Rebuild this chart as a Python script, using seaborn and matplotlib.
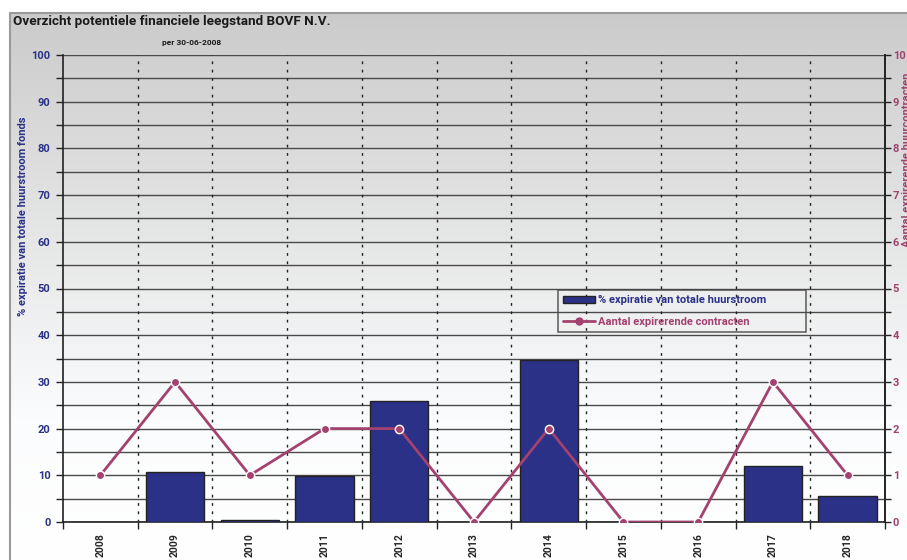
import numpy as np
import matplotlib
matplotlib.use('Agg')
import matplotlib.pyplot as plt
import seaborn as sns
from matplotlib.patches import Rectangle, Patch
from matplotlib.lines import Line2D
from matplotlib.colors import LinearSegmentedColormap

years = ['2008', '2009', '2010', '2011', '2012', '2013', '2014', '2015', '2016', '2017', '2018']
pct_expiratie = [0, 10.7, 0.4, 9.9, 25.9, 0, 34.6, 0, 0, 12.0, 5.6]
aantal_contracten = [1, 3, 1, 2, 2, 0, 2, 0, 0, 3, 1]

navy = '#2a3187'
magenta = '#a3416f'
font = 'Roboto'

sns.set_style('white')
plt.rcParams['font.family'] = [font, 'DejaVu Sans']
plt.rcParams['font.weight'] = 'bold'

fig = plt.figure(figsize=(9.07, 5.6), dpi=100)
fig.patch.set_facecolor('white')

# grey panel with vertical gradient behind everything (grey on top, white at the bottom)
bg = fig.add_axes([10 / 907, 0, 1 - 10 / 907, 1 - 13 / 560], zorder=-10)
cmap = LinearSegmentedColormap.from_list('bg', [(0, '#cbcbcb'), (0.74, '#fbfcfd'), (1, '#ffffff')])
grad = np.linspace(0, 1, 256).reshape(-1, 1)
bg.imshow(grad, aspect='auto', cmap=cmap, extent=[0, 1, 0, 1], origin='upper')
bg.set_xlim(0, 1)
bg.set_ylim(0, 1)
bg.axis('off')
fig.patches.append(Rectangle((10 / 907, -0.01), 1.0, 1 - 13 / 560 + 0.01, transform=fig.transFigure,
                             fill=False, edgecolor='#9a9a9a', linewidth=1.5, zorder=-5))

ax = fig.add_axes([63 / 907, 1 - 522 / 560, (885 - 63) / 907, (522 - 55) / 560])
ax.patch.set_alpha(0)

sns.barplot(x=years, y=pct_expiratie, color=navy, width=0.78, edgecolor='#222222',
            linewidth=1, saturation=1, ax=ax, zorder=3)

ax.set_ylim(0, 100)
ax.set_xlim(-0.5, len(years) - 0.5)
ax.set_yticks(np.arange(0, 101, 10))
ax.set_yticks(np.arange(5, 100, 10), minor=True)
ax.yaxis.grid(True, which='both', color='#4a4a4a', linewidth=1)
ax.set_axisbelow(True)
for xb in np.arange(0.5, len(years) - 0.5, 1):
    ax.axvline(xb, color='#222222', linestyle=(0, (2, 4)), linewidth=1, zorder=1)

ax.tick_params(axis='y', which='both', direction='out', length=5, width=1, color='#222222',
               left=True, labelcolor=navy, labelsize=8, pad=4)
ax.tick_params(axis='x', which='major', length=0, labelsize=7.5, pad=8)
ax.set_xticks(np.arange(-0.5, len(years), 1), minor=True)
ax.tick_params(axis='x', which='minor', direction='out', length=5, width=1, color='#222222', bottom=True)
for lab in ax.get_xticklabels():
    lab.set_rotation(90)
    lab.set_va('top')
    lab.set_fontweight('bold')
for lab in ax.get_yticklabels():
    lab.set_fontweight('bold')

ax.set_xlabel('')
ax.set_ylabel('% expiratie van totale huurstroom fonds', color=navy, fontsize=8, fontweight='bold')
ax.yaxis.set_label_coords(-0.043, 0.655)

for side in ['left', 'bottom', 'right']:
    ax.spines[side].set_color('#222222')
    ax.spines[side].set_linewidth(1.2)
ax.spines['top'].set_visible(False)

ax2 = ax.twinx()
sns.pointplot(x=years, y=aantal_contracten, color=magenta, markers='o', linewidth=2,
              markersize=6, markeredgecolor='white', markeredgewidth=1, ax=ax2, zorder=5)
ax2.set_ylim(0, 10)
ax2.set_xlim(-0.5, len(years) - 0.5)
ax2.set_yticks(np.arange(0, 11, 1))
ax2.set_yticks(np.arange(0.5, 10, 1), minor=True)
ax2.tick_params(axis='y', which='both', direction='out', length=4, width=1, color='#222222',
                right=True, labelcolor=magenta, labelsize=8, pad=1.5)
for lab in ax2.get_yticklabels():
    lab.set_fontweight('bold')
ax2.set_ylabel('Aantal expirerende huurcontracten', color=magenta, fontsize=8, fontweight='bold',
               rotation=90)
ax2.yaxis.set_label_coords(1.0205, 0.775)
for side in ['top', 'left', 'bottom']:
    ax2.spines[side].set_visible(False)
ax2.spines['right'].set_color('#222222')
ax2.spines['right'].set_linewidth(1.2)
ax2.set_xlabel('')

handles = [Patch(facecolor=navy, edgecolor='#222222'),
           Line2D([0], [0], color=magenta, linewidth=2, marker='o', markersize=5)]
leg = ax2.legend(handles, ['% expiratie van totale huurstroom', 'Aantal expirerende contracten'],
                 loc='upper left', bbox_to_anchor=(0.602, 0.497 - 0.092, 0.302, 0.092),
                 mode='expand', frameon=True, fancybox=False,
                 prop={'family': font, 'weight': 'bold', 'size': 8},
                 handlelength=2.8, handletextpad=0.3, borderpad=0.5, labelspacing=1.0,
                 borderaxespad=0)
frame = leg.get_frame()
frame.set_facecolor('none')
frame.set_edgecolor('#444444')
frame.set_linewidth(1.2)
leg.get_texts()[0].set_color(navy)
leg.get_texts()[1].set_color(magenta)

fig.text(13 / 907, 1 - 22 / 560, 'Overzicht potentiele financiele leegstand BOVF N.V.',
         fontsize=9.7, fontweight='bold', color='#1a1a1a', va='center', ha='left')
fig.text(192 / 907, 1 - 42 / 560, 'per 30-06-2008', fontsize=6, fontweight='bold',
         color='#1a1a1a', va='center', ha='center')

fig.savefig('out.png', dpi=100)
